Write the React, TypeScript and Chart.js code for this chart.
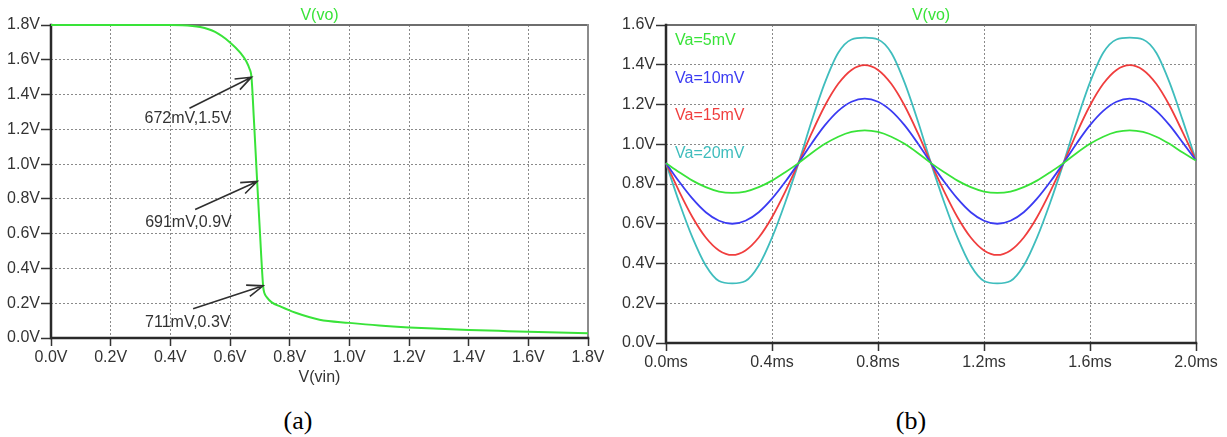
import React, { useEffect, useRef } from 'react';
import { Chart, registerables } from 'chart.js';

Chart.register(...registerables);

// ---- (a) DC transfer curve: V(vo) versus V(vin) ----
const vinVolts = [
  0, 0.2, 0.4, 0.44, 0.5, 0.55, 0.6, 0.635, 0.655, 0.665, 0.672, 0.68, 0.691, 0.7, 0.711,
  0.715, 0.723, 0.74, 0.77, 0.82, 0.9, 1.0, 1.1, 1.2, 1.3, 1.4, 1.5, 1.6, 1.7, 1.8,
];
const voutVolts = [
  1.8, 1.8, 1.8, 1.799, 1.788, 1.76, 1.7, 1.64, 1.59, 1.55, 1.5, 1.26, 0.9, 0.62, 0.3,
  0.26, 0.235, 0.205, 0.18, 0.145, 0.105, 0.087, 0.072, 0.061, 0.053, 0.046, 0.041, 0.036, 0.032, 0.028,
];
const vinTickValues = [0, 0.2, 0.4, 0.6, 0.8, 1.0, 1.2, 1.4, 1.6, 1.8];
const vinTickLabels = ['0.0V', '0.2V', '0.4V', '0.6V', '0.8V', '1.0V', '1.2V', '1.4V', '1.6V', '1.8V'];
const voutTickValues = [0, 0.2, 0.4, 0.6, 0.8, 1.0, 1.2, 1.4, 1.6, 1.8];
const voutTickLabels = ['0.0V', '0.2V', '0.4V', '0.6V', '0.8V', '1.0V', '1.2V', '1.4V', '1.6V', '1.8V'];
const markerVin = [0.672, 0.691, 0.711];
const markerVout = [1.5, 0.9, 0.3];
const markerLabels = ['672mV,1.5V', '691mV,0.9V', '711mV,0.3V'];

// ---- (b) transient output for four input amplitudes ----
const timeMs = [
  0, 0.05, 0.1, 0.15, 0.2, 0.25, 0.3, 0.35, 0.4, 0.45, 0.5, 0.55, 0.6, 0.65, 0.7, 0.75, 0.8, 0.85, 0.9, 0.95,
  1.0, 1.05, 1.1, 1.15, 1.2, 1.25, 1.3, 1.35, 1.4, 1.45, 1.5, 1.55, 1.6, 1.65, 1.7, 1.75, 1.8, 1.85, 1.9, 1.95,
  2.0,
];
const vo5mV = [
  0.905, 0.859, 0.817, 0.784, 0.762, 0.755, 0.762, 0.784, 0.817, 0.859, 0.905, 0.956, 1.002, 1.038, 1.062, 1.07, 1.062, 1.038, 1.002, 0.956,
  0.905, 0.859, 0.817, 0.784, 0.762, 0.755, 0.762, 0.784, 0.817, 0.859, 0.905, 0.956, 1.002, 1.038, 1.062, 1.07, 1.062, 1.038, 1.002, 0.958,
  0.918,
];
const vo10mV = [
  0.905, 0.811, 0.726, 0.658, 0.615, 0.6, 0.615, 0.658, 0.726, 0.811, 0.905, 1.005, 1.096, 1.168, 1.214, 1.23, 1.214, 1.168, 1.096, 1.005,
  0.905, 0.811, 0.726, 0.658, 0.615, 0.6, 0.615, 0.658, 0.726, 0.811, 0.905, 1.005, 1.096, 1.168, 1.214, 1.23, 1.214, 1.168, 1.096, 1.008,
  0.918,
];
const vo15mV = [
  0.905, 0.762, 0.633, 0.531, 0.466, 0.443, 0.466, 0.531, 0.633, 0.762, 0.905, 1.057, 1.195, 1.304, 1.374, 1.398, 1.374, 1.304, 1.195, 1.057,
  0.905, 0.762, 0.633, 0.531, 0.466, 0.443, 0.466, 0.531, 0.633, 0.762, 0.905, 1.057, 1.195, 1.304, 1.374, 1.398, 1.374, 1.304, 1.195, 1.06,
  0.918,
];
const vo20mV = [
  0.905, 0.707, 0.53, 0.39, 0.312, 0.3, 0.312, 0.39, 0.53, 0.707, 0.905, 1.118, 1.311, 1.46, 1.527, 1.536, 1.527, 1.46, 1.311, 1.118,
  0.905, 0.707, 0.53, 0.39, 0.312, 0.3, 0.312, 0.39, 0.53, 0.707, 0.905, 1.118, 1.311, 1.46, 1.527, 1.536, 1.527, 1.46, 1.311, 1.12,
  0.918,
];
const seriesLabels = ['Va=5mV', 'Va=10mV', 'Va=15mV', 'Va=20mV'];
const seriesColors = ['#39e339', '#3b3bf2', '#f03e3e', '#3fbdbd'];
const timeTickValues = [0, 0.4, 0.8, 1.2, 1.6, 2.0];
const timeTickLabels = ['0.0ms', '0.4ms', '0.8ms', '1.2ms', '1.6ms', '2.0ms'];
const acTickValues = [0, 0.2, 0.4, 0.6, 0.8, 1.0, 1.2, 1.4, 1.6];
const acTickLabels = ['0.0V', '0.2V', '0.4V', '0.6V', '0.8V', '1.0V', '1.2V', '1.4V', '1.6V'];

const FONT = '"Liberation Sans", Arial, sans-serif';
const TEXT = '#333333';
const TRACE_GREEN = '#39e339';

// Linear axis with fixed ticks, dotted grid and solid outside tick marks.
function fixedAxis(
  values: number[],
  labels: string[],
  min: number,
  max: number,
  size: number,
  horizontal: boolean,
) {
  return {
    type: 'linear',
    min,
    max,
    afterBuildTicks(scale: any) {
      scale.ticks = values.map((v) => ({ value: v }));
    },
    afterFit(scale: any) {
      if (horizontal) scale.height = size;
      else scale.width = size;
      scale.paddingLeft = 0;
      scale.paddingRight = 0;
      scale.paddingTop = 0;
      scale.paddingBottom = 0;
    },
    ticks: {
      autoSkip: false,
      maxRotation: 0,
      minRotation: 0,
      padding: horizontal ? 2 : 1,
      color: TEXT,
      font: { family: FONT, size: 16 },
      callback: (_v: any, i: number) => labels[i],
    },
    grid: {
      color: '#8a8a8a',
      lineWidth: 1,
      drawTicks: true,
      tickLength: horizontal ? 8 : 10,
      tickColor: '#333333',
      tickWidth: 1.5,
      tickBorderDash: [],
    },
    border: { display: false, dash: [2, 2] },
  };
}

// Plot frame: grey top/right edges, dark left/bottom axes.
const framePlugin = {
  id: 'frame',
  beforeDatasetsDraw(chart: any) {
    const { ctx, chartArea } = chart;
    const { left, top, right, bottom } = chartArea;
    ctx.save();
    ctx.lineCap = 'square';
    ctx.strokeStyle = '#6e6e6e';
    ctx.lineWidth = 2;
    ctx.beginPath();
    ctx.moveTo(left, top);
    ctx.lineTo(right, top);
    ctx.stroke();
    ctx.strokeStyle = '#8c8c8c';
    ctx.beginPath();
    ctx.moveTo(right, top);
    ctx.lineTo(right, bottom);
    ctx.stroke();
    ctx.strokeStyle = '#2a2a2a';
    ctx.lineWidth = 2.5;
    ctx.beginPath();
    ctx.moveTo(left, top);
    ctx.lineTo(left, bottom);
    ctx.lineTo(right, bottom);
    ctx.stroke();
    ctx.restore();
  },
};

// Trace name above the plot.
function headingPlugin(text: string) {
  return {
    id: 'heading',
    afterDraw(chart: any) {
      const { ctx, chartArea } = chart;
      ctx.save();
      ctx.font = `16px ${FONT}`;
      ctx.fillStyle = TRACE_GREEN;
      ctx.textAlign = 'center';
      ctx.textBaseline = 'alphabetic';
      ctx.fillText(text, (chartArea.left + chartArea.right) / 2, 20);
      ctx.restore();
    },
  };
}

// Axis name under the x tick labels of the transfer curve.
const vinTitlePlugin = {
  id: 'vinTitle',
  afterDraw(chart: any) {
    const { ctx, chartArea } = chart;
    ctx.save();
    ctx.font = `16px ${FONT}`;
    ctx.fillStyle = TEXT;
    ctx.textAlign = 'center';
    ctx.textBaseline = 'alphabetic';
    ctx.fillText('V(vin)', (chartArea.left + chartArea.right) / 2, chartArea.bottom + 44);
    ctx.restore();
  },
};

// Arrow callouts pointing at operating points on the transfer curve.
const calloutTail = [
  [-62, 31],
  [-62, 28],
  [-70, 23],
];
const calloutText = [
  [-107, 46],
  [-112, 45],
  [-118, 41],
];
const calloutPlugin = {
  id: 'callouts',
  afterDatasetsDraw(chart: any) {
    const { ctx, scales } = chart;
    ctx.save();
    ctx.strokeStyle = '#2f2f2f';
    ctx.fillStyle = TEXT;
    ctx.lineWidth = 1.6;
    ctx.font = `16px ${FONT}`;
    ctx.textAlign = 'left';
    ctx.textBaseline = 'alphabetic';
    markerVin.forEach((vin, i) => {
      const tx = scales.x.getPixelForValue(vin);
      const ty = scales.y.getPixelForValue(markerVout[i]);
      const sx = tx + calloutTail[i][0];
      const sy = ty + calloutTail[i][1];
      const ang = Math.atan2(sy - ty, sx - tx);
      const head = 17;
      const spread = 0.36;
      ctx.beginPath();
      ctx.moveTo(sx, sy);
      ctx.lineTo(tx, ty);
      ctx.moveTo(tx + head * Math.cos(ang - spread), ty + head * Math.sin(ang - spread));
      ctx.lineTo(tx, ty);
      ctx.lineTo(tx + head * Math.cos(ang + spread), ty + head * Math.sin(ang + spread));
      ctx.stroke();
      ctx.fillText(markerLabels[i], tx + calloutText[i][0], ty + calloutText[i][1]);
    });
    ctx.restore();
  },
};

// Coloured series names in the upper-left corner of the transient plot.
const seriesNamePlugin = {
  id: 'seriesNames',
  afterDraw(chart: any) {
    const { ctx, chartArea } = chart;
    ctx.save();
    ctx.font = `16px ${FONT}`;
    ctx.textAlign = 'left';
    ctx.textBaseline = 'alphabetic';
    chart.data.datasets.forEach((ds: any, i: number) => {
      ctx.fillStyle = ds.borderColor;
      ctx.fillText(ds.label, chartArea.left + 9, chartArea.top + 20 + i * 37.7);
    });
    ctx.restore();
  },
};

function transferConfig(): any {
  return {
    type: 'line',
    data: {
      datasets: [
        {
          label: 'V(vo)',
          data: vinVolts.map((x, i) => ({ x, y: voutVolts[i] })),
          borderColor: TRACE_GREEN,
          borderWidth: 2,
          pointRadius: 0,
          cubicInterpolationMode: 'monotone',
          fill: false,
          clip: 4,
        },
      ],
    },
    options: {
      animation: false,
      responsive: false,
      devicePixelRatio: 1,
      layout: { padding: { top: 25, right: 16, left: 0, bottom: 0 } },
      plugins: { legend: { display: false }, title: { display: false }, tooltip: { enabled: false } },
      scales: {
        x: fixedAxis(vinTickValues, vinTickLabels, 0, 1.8, 62, true),
        y: fixedAxis(voutTickValues, voutTickLabels, 0, 1.8, 51, false),
      },
    },
    plugins: [framePlugin, headingPlugin('V(vo)'), vinTitlePlugin, calloutPlugin],
  };
}

function transientConfig(): any {
  const series = [vo5mV, vo10mV, vo15mV, vo20mV];
  return {
    type: 'line',
    data: {
      datasets: series.map((vals, k) => ({
        label: seriesLabels[k],
        data: timeMs.map((x, i) => ({ x, y: vals[i] })),
        borderColor: seriesColors[k],
        borderWidth: 1.8,
        pointRadius: 0,
        cubicInterpolationMode: 'monotone',
        fill: false,
        clip: 4,
      })),
    },
    options: {
      animation: false,
      responsive: false,
      devicePixelRatio: 1,
      layout: { padding: { top: 25, right: 31, left: 0, bottom: 0 } },
      plugins: { legend: { display: false }, title: { display: false }, tooltip: { enabled: false } },
      scales: {
        x: fixedAxis(timeTickValues, timeTickLabels, 0, 2.0, 57, true),
        y: fixedAxis(acTickValues, acTickLabels, 0, 1.6, 62, false),
      },
    },
    plugins: [framePlugin, headingPlugin('V(vo)'), seriesNamePlugin],
  };
}

function ChartCanvas(props: { make: () => any; left: number; width: number; height: number }) {
  const ref = useRef<HTMLCanvasElement>(null);
  useEffect(() => {
    const chart = new Chart(ref.current as HTMLCanvasElement, props.make());
    return () => chart.destroy();
  }, []);
  return (
    <canvas
      ref={ref}
      width={props.width}
      height={props.height}
      style={{ position: 'absolute', left: props.left, top: 0, width: props.width, height: props.height }}
    />
  );
}

const captionStyle: React.CSSProperties = {
  position: 'absolute',
  top: 406,
  width: 80,
  textAlign: 'center',
  font: '26px "Liberation Serif", "Times New Roman", serif',
  color: '#000',
  lineHeight: '30px',
};

export default function App() {
  return (
    <div
      style={{
        position: 'fixed',
        left: 0,
        top: 0,
        width: 1227,
        height: 437,
        background: '#ffffff',
        overflow: 'hidden',
      }}
    >
      <ChartCanvas make={transferConfig} left={0} width={604} height={400} />
      <ChartCanvas make={transientConfig} left={604} width={623} height={400} />
      <div style={{ ...captionStyle, left: 298 - 40 }}>(a)</div>
      <div style={{ ...captionStyle, left: 911 - 40 }}>(b)</div>
    </div>
  );
}
